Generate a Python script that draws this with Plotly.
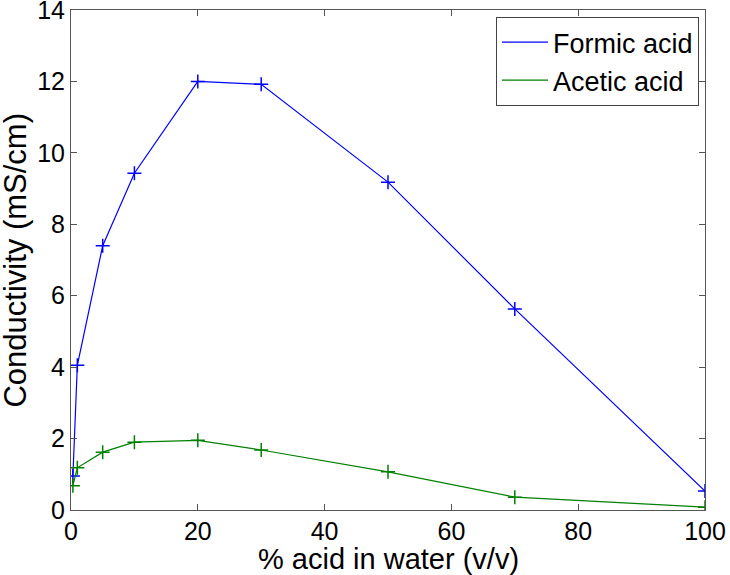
import plotly.graph_objects as go

x_formic = [0.3, 1, 5, 10, 20, 30, 50, 70, 100]
y_formic = [0.95, 4.05, 7.4, 9.43, 12.0, 11.92, 9.18, 5.63, 0.53]
x_acetic = [0.3, 1, 5, 10, 20, 30, 50, 70, 100]
y_acetic = [0.68, 1.18, 1.62, 1.90, 1.95, 1.68, 1.07, 0.36, 0.08]

x_ticks = [0, 20, 40, 60, 80, 100]
y_ticks = [0, 2, 4, 6, 8, 10, 12, 14]
x_title = "% acid in water (v/v)"
y_title = "Conductivity (mS/cm)"

blue = "#0000ff"
green = "#008000"
font = "Liberation Sans, Arial, Helvetica, sans-serif"

fig = go.Figure()
for xs, ys, c in [(x_formic, y_formic, blue), (x_acetic, y_acetic, green)]:
    fig.add_trace(go.Scatter(x=xs, y=ys, mode="lines+markers", showlegend=False,
                             line=dict(color=c, width=1.2),
                             marker=dict(symbol="cross-thin", size=10,
                                         line=dict(color=c, width=1.5))))
for c, name in [(blue, "Formic acid"), (green, "Acetic acid")]:
    fig.add_trace(go.Scatter(x=[None], y=[None], mode="lines", name=name,
                             line=dict(color=c, width=1.2)))

axis_common = dict(showgrid=False, zeroline=False, showline=True, mirror="ticks",
                   linecolor="#555555", linewidth=1, ticks="inside", ticklen=6,
                   tickcolor="#555555", automargin=False, ticklabeloverflow="allow",
                   tickfont=dict(size=25, color="black", family=font))
fig.update_xaxes(range=[0, 100], tickvals=x_ticks, ticklabelstandoff=-1, **axis_common)
fig.update_yaxes(range=[0, 14], tickvals=y_ticks, **axis_common)

fig.add_annotation(text=x_title, xref="paper", yref="paper", x=0.5, y=-0.097,
                   xanchor="center", yanchor="middle", showarrow=False,
                   font=dict(size=29, color="black", family=font))
fig.add_annotation(text=y_title, xref="paper", yref="paper", x=-0.089, y=0.5,
                   xanchor="center", yanchor="middle", showarrow=False, textangle=-90,
                   font=dict(size=31, color="black", family=font))

fig.update_layout(
    width=730, height=575,
    margin=dict(l=71, r=25, t=10, b=65),
    plot_bgcolor="white", paper_bgcolor="white",
    font=dict(family=font, size=25, color="black"),
    legend=dict(x=0.9905, y=0.986, xanchor="right", yanchor="top",
                bordercolor="#444444", borderwidth=1, bgcolor="white",
                font=dict(size=27, color="black", family=font),
                itemwidth=46, tracegroupgap=0),
)
fig.write_html("out.html", config={"displayModeBar": False},
               post_script="document.body.style.margin='0';document.body.style.overflow='hidden';")
